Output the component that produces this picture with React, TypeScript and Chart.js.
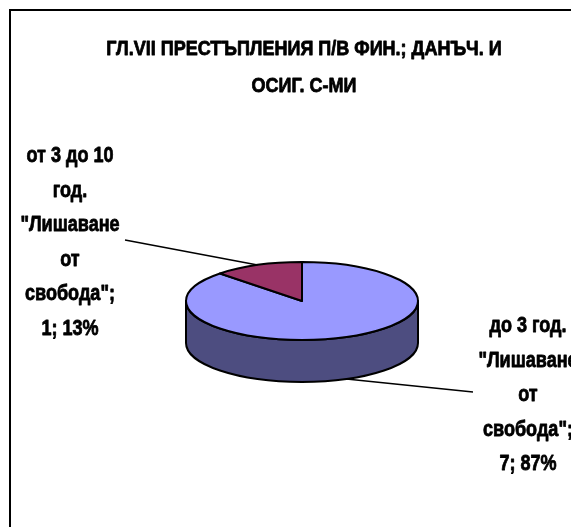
import React, { useEffect, useRef } from "react";
import { Chart, registerables } from "chart.js";

Chart.register(...registerables);

const titleLines = ["ГЛ.VII ПРЕСТЪПЛЕНИЯ П/В ФИН.; ДАНЪЧ. И", "ОСИГ. С-МИ"];
const categoryLines = [
  ["до 3 год.", "\"Лишаване", "от", "свобода\""],
  ["от 3 до 10", "год.", "\"Лишаване", "от", "свобода\""],
];
const values = [7, 1];
const percentLabels = ["87%", "13%"];
const colors = ["#9999FF", "#993366"];

const FONT = "\"Liberation Sans\", Arial, sans-serif";

function darken(hex: string, f: number) {
  const n = parseInt(hex.slice(1), 16);
  const r = Math.round(((n >> 16) & 255) * f);
  const g = Math.round(((n >> 8) & 255) * f);
  const b = Math.round((n & 255) * f);
  return `rgb(${r},${g},${b})`;
}

const RATIO = 0.336;
const DEPTH = 42;

function narrowText(ctx: CanvasRenderingContext2D, t: string, x: number, y: number, sx: number) {
  ctx.save();
  ctx.translate(x, y);
  ctx.scale(sx, 1);
  ctx.lineWidth = 0.8;
  ctx.strokeStyle = "#000";
  ctx.lineJoin = "round";
  ctx.fillText(t, 0, 0);
  ctx.strokeText(t, 0, 0);
  ctx.restore();
}

const pie3d = {
  id: "pie3d",
  beforeDatasetsDraw(chart: any) {
    const ctx = chart.ctx;
    const meta = chart.getDatasetMeta(0);
    const arcs = meta.data;
    if (!arcs.length) return false;
    const cx = arcs[0].x;
    const cy = arcs[0].y;
    const rx = arcs[0].outerRadius;
    const ry = rx * RATIO;
    ctx.save();
    ctx.lineWidth = 2;
    ctx.strokeStyle = "#000";
    ctx.lineJoin = "round";
    arcs.forEach((arc: any, i: number) => {
      const s = arc.startAngle;
      const e = arc.endAngle;
      for (let k = -1; k <= 2; k++) {
        const lo = Math.max(s, 2 * Math.PI * k);
        const hi = Math.min(e, 2 * Math.PI * k + Math.PI);
        if (hi <= lo) continue;
        ctx.beginPath();
        ctx.moveTo(cx + rx * Math.cos(lo), cy + ry * Math.sin(lo));
        ctx.ellipse(cx, cy, rx, ry, 0, lo, hi, false);
        ctx.lineTo(cx + rx * Math.cos(hi), cy + DEPTH + ry * Math.sin(hi));
        ctx.ellipse(cx, cy + DEPTH, rx, ry, 0, hi, lo, true);
        ctx.closePath();
        ctx.fillStyle = darken(colors[i], 0.5);
        ctx.fill();
        ctx.stroke();
      }
    });
    arcs.forEach((arc: any, i: number) => {
      ctx.beginPath();
      ctx.moveTo(cx, cy);
      ctx.ellipse(cx, cy, rx, ry, 0, arc.startAngle, arc.endAngle, false);
      ctx.closePath();
      ctx.fillStyle = colors[i];
      ctx.fill();
      ctx.stroke();
    });
    ctx.restore();
    return false;
  },
  afterDraw(chart: any) {
    const ctx = chart.ctx;
    const meta = chart.getDatasetMeta(0);
    const arcs = meta.data;
    const cx = arcs[0].x;
    const cy = arcs[0].y;
    const rx = arcs[0].outerRadius;
    const ry = rx * RATIO;
    ctx.save();
    ctx.strokeStyle = "#000";
    ctx.lineWidth = 2;
    ctx.strokeRect(2, 2, 1000, 1000);
    ctx.fillStyle = "#000";
    ctx.textAlign = "center";
    ctx.textBaseline = "middle";
    ctx.font = `bold 20px ${FONT}`;
    titleLines.forEach((t, i) => narrowText(ctx, t, 296, 41 + i * 37, 0.9));
    const place = [
      { x: 520, y: 318, lx: 465, ly: 384, bottom: true },
      { x: 62, y: 148, lx: 117, ly: 232, bottom: false },
    ];
    ctx.font = `bold 22px ${FONT}`;
    arcs.forEach((arc: any, i: number) => {
      const p = place[i];
      const lines = categoryLines[i].slice();
      lines[lines.length - 1] = lines[lines.length - 1] + ";";
      lines.push(`${values[i]}; ${percentLabels[i]}`);
      lines.forEach((t, j) => narrowText(ctx, t, p.x, p.y + j * 34.5, 0.82));
      const mid = (arc.startAngle + arc.endAngle) / 2;
      const px = cx + rx * Math.cos(mid);
      const py = cy + ry * Math.sin(mid) + (p.bottom ? DEPTH : 0);
      ctx.beginPath();
      ctx.lineWidth = 1.5;
      ctx.moveTo(p.lx, p.ly);
      ctx.lineTo(px, py);
      ctx.stroke();
    });
    ctx.restore();
  },
};

export default function App() {
  const ref = useRef<HTMLCanvasElement>(null);
  useEffect(() => {
    if (!ref.current) return;
    const chart = new Chart(ref.current, {
      type: "pie",
      data: {
        labels: categoryLines.map((l) => l.join(" ")),
        datasets: [{ data: values, backgroundColor: colors, borderColor: "#000", borderWidth: 0 }],
      },
      options: {
        responsive: false,
        animation: false,
        layout: { padding: { left: 178, right: 161, top: 177, bottom: 110 } },
        plugins: { legend: { display: false }, tooltip: { enabled: false }, title: { display: false } },
      },
      plugins: [pie3d],
    });
    return () => chart.destroy();
  }, []);
  return <canvas ref={ref} width={571} height={519} style={{ display: "block" }} />;
}
